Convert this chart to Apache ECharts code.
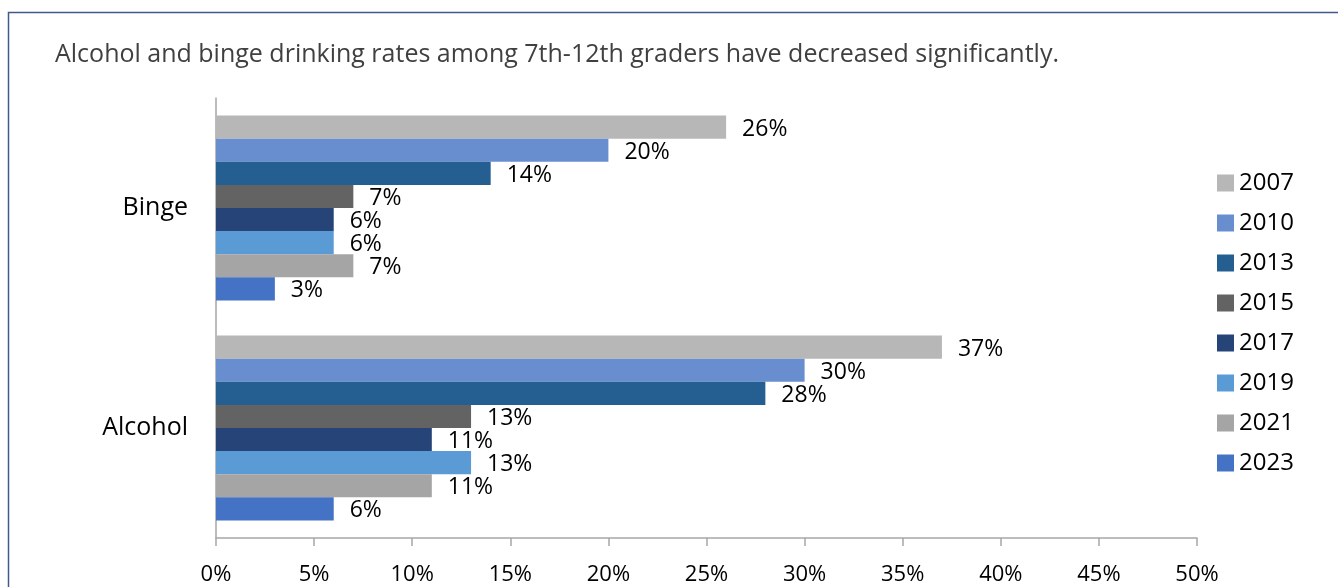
<!DOCTYPE html>
<html>
<head>
<meta charset="utf-8">
<script src="https://cdn.jsdelivr.net/npm/echarts@6/dist/echarts.min.js"></script>
<style>
  html, body { margin: 0; padding: 0; background: #fff; }
  #chart { width: 1338px; height: 587px; }
</style>
</head>
<body>
<div id="chart"></div>
<script>
  // data
  const categories = ['Binge', 'Alcohol']
  const years = ['2007', '2010', '2013', '2015', '2017', '2019', '2021', '2023']
  const binge = [26, 20, 14, 7, 6, 6, 7, 3]
  const alcohol = [37, 30, 28, 13, 11, 13, 11, 6]
  const colors = ['#b7b7b7', '#698ed0', '#255e91', '#636363', '#264478', '#5b9bd5', '#a5a5a5', '#4472c4']

  const font = '"Open Sans", "Noto Sans", sans-serif'
  const chart = echarts.init(document.getElementById('chart'))

  const series = years.map((y, i) => ({
    name: y,
    type: 'bar',
    barGap: '0%',
    barCategoryGap: '16%',
    data: [binge[i], alcohol[i]],
    itemStyle: { color: colors[i] },
    label: {
      show: true,
      position: 'right',
      distance: 16,
      offset: [0, 2],
      formatter: '{c}%',
      color: '#000',
      fontFamily: font,
      fontSize: 23
    }
  }))

  chart.setOption({
    animation: false,
    color: colors,
    title: {
      text: 'Alcohol and binge drinking rates among 7th-12th graders have decreased significantly.',
      left: 50,
      top: 37,
      textStyle: { fontFamily: font, fontSize: 25, fontWeight: 'normal', color: '#404040' }
    },
    graphic: [{
      type: 'rect',
      shape: { x: 8.5, y: 12.5, width: 1340, height: 600 },
      style: { fill: 'none', stroke: '#41598a', lineWidth: 1.5 }
    }],
    legend: {
      orient: 'vertical',
      left: 1212,
      top: 166,
      itemWidth: 17,
      itemHeight: 17,
      itemGap: 16,
      icon: 'rect',
      textStyle: { fontFamily: font, fontSize: 24, lineHeight: 24, color: '#000' },
      data: years
    },
    grid: { left: 216, right: 141, top: 98, bottom: 49 },
    xAxis: {
      type: 'value',
      min: 0,
      max: 50,
      interval: 5,
      axisLine: { show: true, lineStyle: { color: '#a6a6a6', width: 1.5 } },
      axisTick: { show: true, length: 8, lineStyle: { color: '#a6a6a6', width: 1.5 } },
      splitLine: { show: false },
      axisLabel: { formatter: '{value}%', margin: 26, fontFamily: font, fontSize: 22, color: '#000' }
    },
    yAxis: {
      type: 'category',
      inverse: true,
      data: categories,
      axisLine: { show: true, lineStyle: { color: '#a6a6a6', width: 1.5 } },
      axisTick: { show: false },
      axisLabel: { margin: 28, fontFamily: font, fontSize: 25, color: '#000' }
    },
    series: series
  })
</script>
</body>
</html>
